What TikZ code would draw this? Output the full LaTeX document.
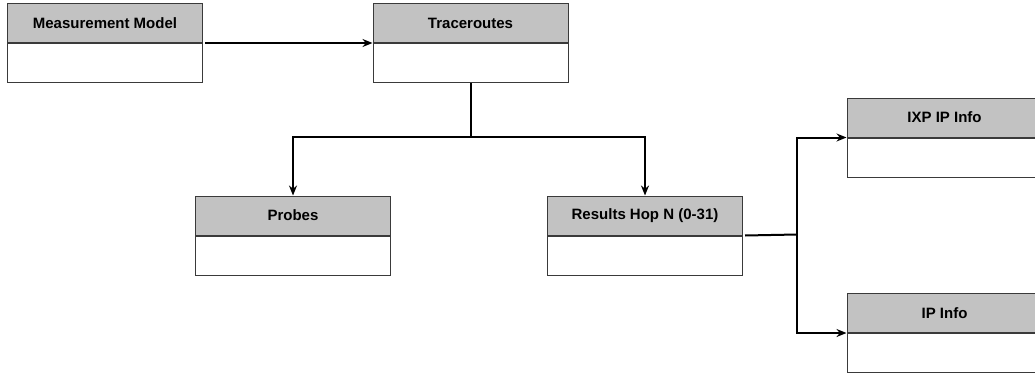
\documentclass[tikz,border=0pt]{standalone}
\usepackage{fontspec}
\setmainfont{Liberation Sans}
\usetikzlibrary{arrows.meta,positioning}
\definecolor{hdrgray}{HTML}{C2C2C2}
\definecolor{edgegray}{HTML}{3A3A3A}
\tikzset{
  hdr/.style={draw=edgegray, line width=1pt, fill=hdrgray, anchor=north west,
    minimum width=195pt, minimum height=39pt, inner sep=0pt,
    font=\fontsize{15pt}{17pt}\selectfont\bfseries},
  bdy/.style={draw=edgegray, line width=1pt, fill=white, anchor=north,
    minimum width=195pt, minimum height=39pt, inner sep=0pt},
  conn/.style={draw=black, line width=2pt},
  arr/.style={conn, -{Stealth[length=10pt,width=8pt]}}
}
\begin{document}
\begin{tikzpicture}[x=1pt,y=-1pt]
\useasboundingbox (0,0) rectangle (1035,372);
\clip (0,0) rectangle (1035,372);
% boxes
\node[hdr] (mmh) at (7,3) {Measurement Model};
\node[bdy] (mmb) at (mmh.south) {};
\node[hdr] (trh) at (372.5,3) {Traceroutes};
\node[bdy] (trb) at (trh.south) {};
\node[hdr] (prh) at (195,195.5) {Probes};
\node[bdy] (prb) at (prh.south) {};
\node[hdr] (rhh) at (547,195.5) {Results Hop N (0-31)};
\node[bdy] (rhb) at (rhh.south) {};
\node[hdr] (ixh) at (846.5,97.5) {IXP IP Info};
\node[bdy] (ixb) at (ixh.south) {};
\node[hdr] (iph) at (846.5,293) {IP Info};
\node[bdy] (ipb) at (iph.south) {};
% junction coordinates
\coordinate (j1) at (470,137);
\coordinate (j2) at (797,234.5);
% connectors
\draw[arr] ([xshift=2pt]mmh.south east) -- (trh.south west);
\draw[conn] (trb.south) -- (trb.south |- j1);
\draw[arr] (j1) -| (prh.north);
\draw[arr] (j1) -| (rhh.north);
\draw[conn] ([xshift=2pt]rhh.south east) -- (j2);
\draw[arr] (j2) |- (ixh.south west);
\draw[arr] (j2) |- (iph.south west);
\end{tikzpicture}
\end{document}
